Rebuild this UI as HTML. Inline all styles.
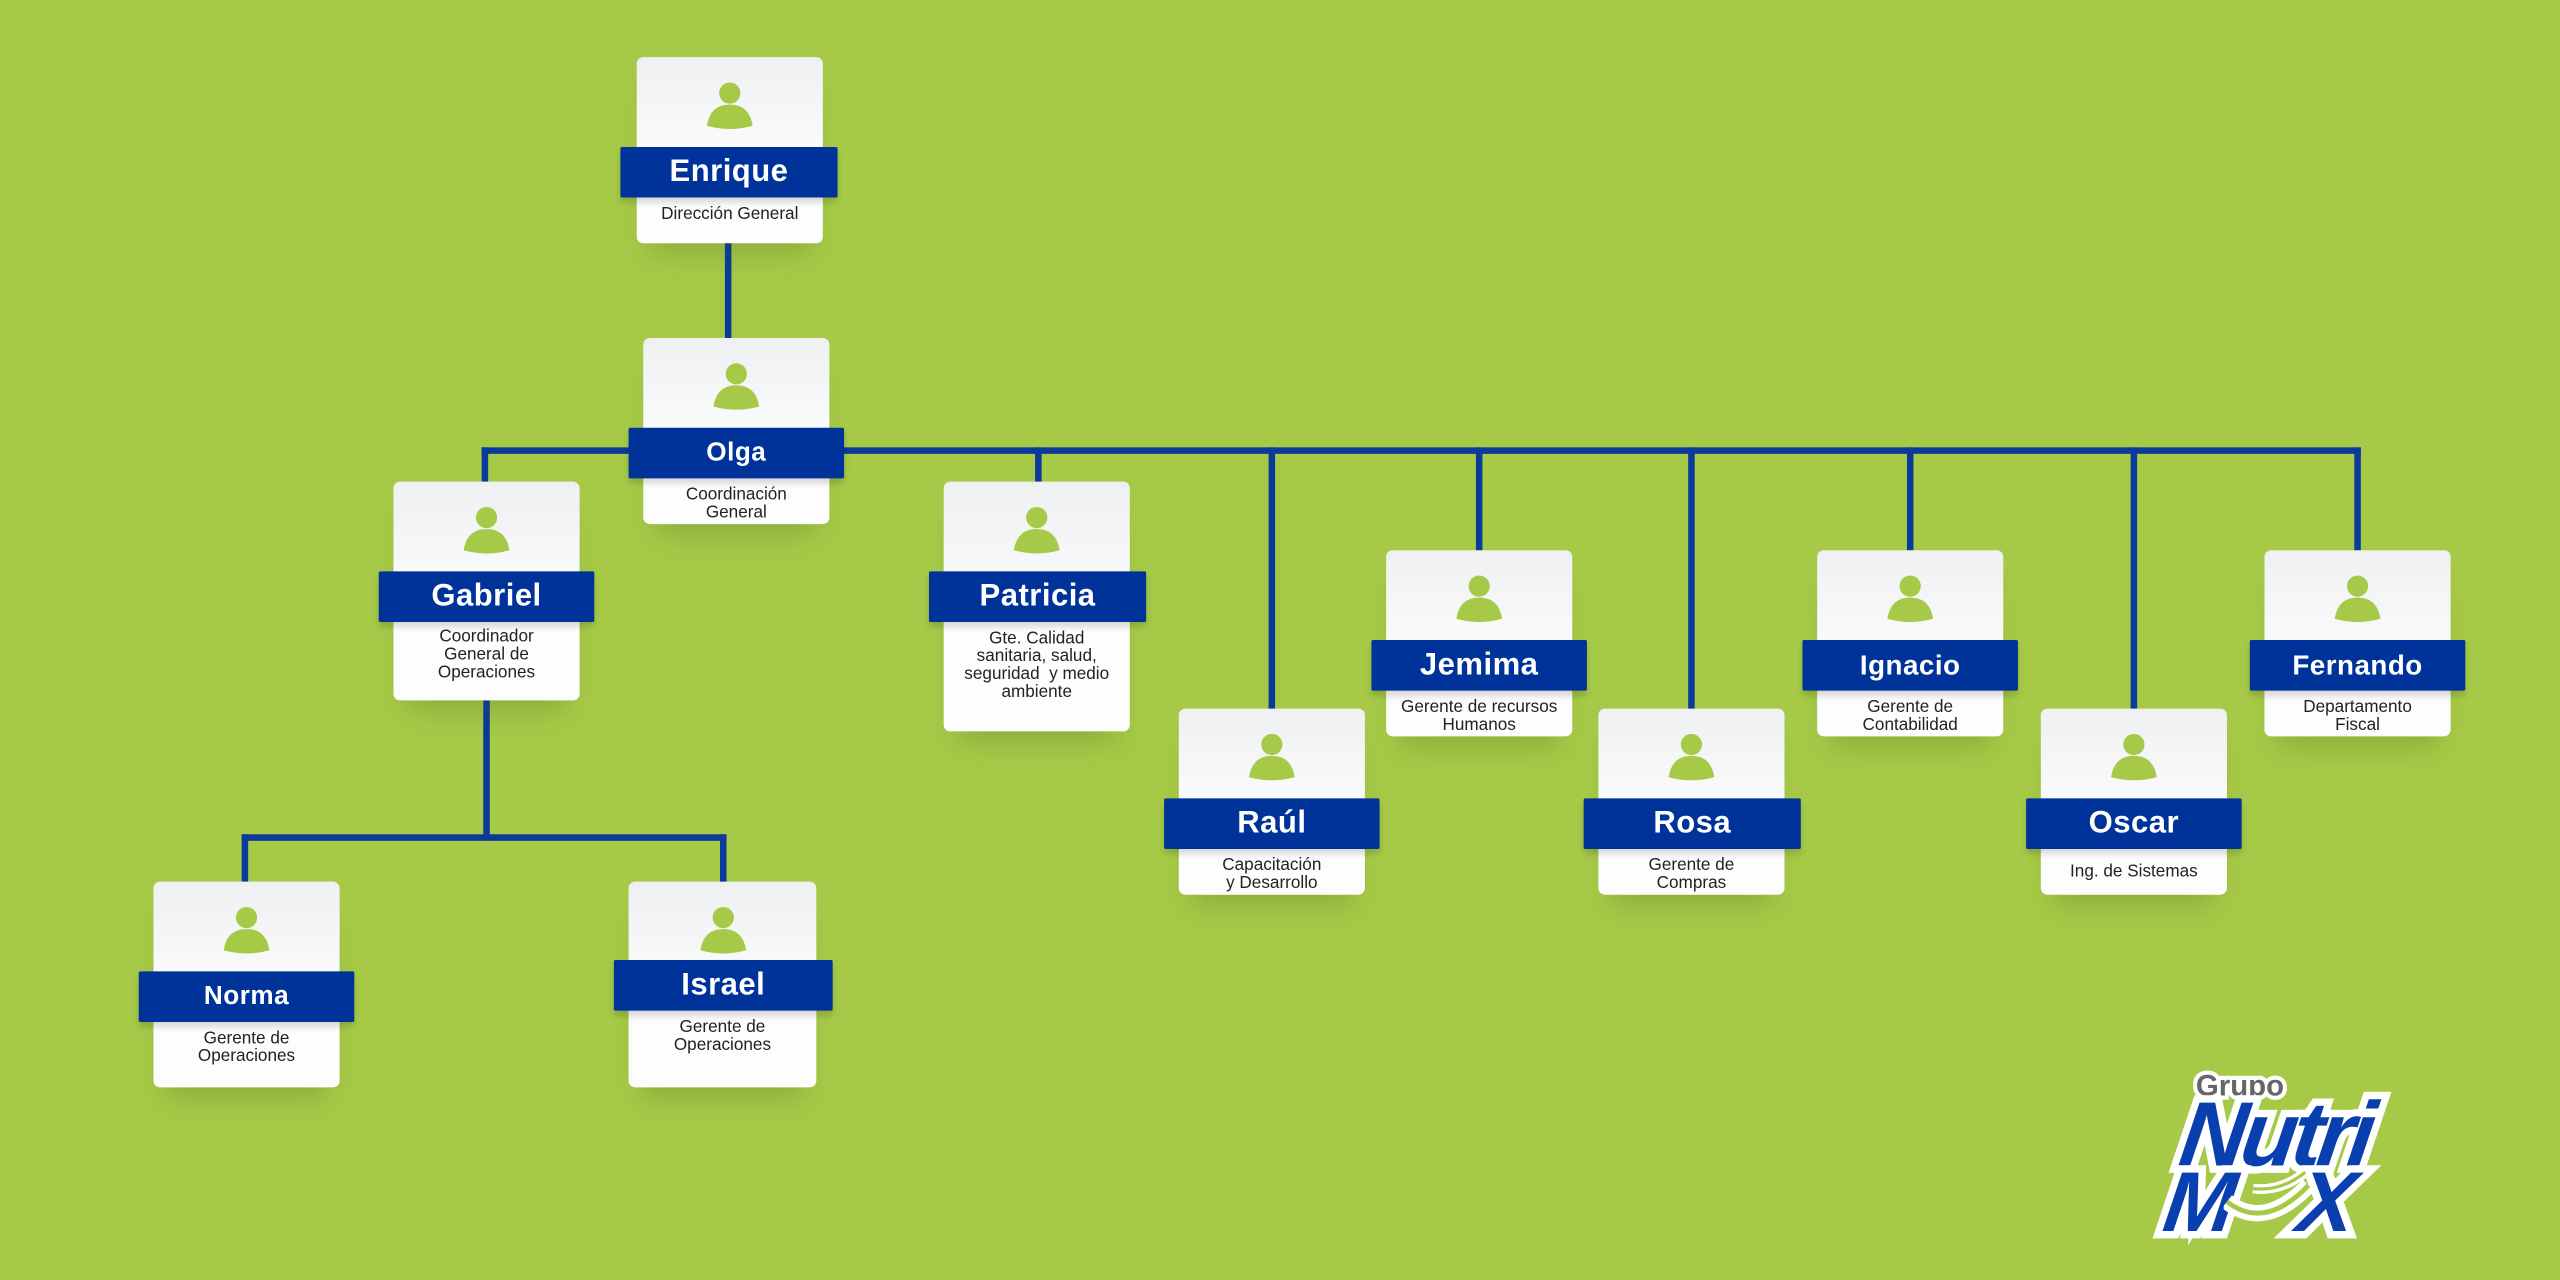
<!DOCTYPE html>
<html><head><meta charset="utf-8"><style>
html,body{margin:0;padding:0;}
body{width:2560px;height:1280px;overflow:hidden;background:#a6ca47;}
#w{position:absolute;left:0;top:0;width:1568px;height:784px;transform:scale(1.632653);transform-origin:0 0;font-family:"Liberation Sans","DejaVu Sans",sans-serif;}
.c{position:absolute;background:linear-gradient(#eef0f2,#fdfdfd 60%);border-radius:4px;box-shadow:0 14px 16px -8px rgba(60,80,20,0.25);}
.ic{position:absolute;left:50%;top:14px;width:32px;height:30px;margin-left:-16px;}
.b{position:absolute;background:#003399;color:#fff;font-weight:900;font-size:19px;text-align:center;border-radius:1px;box-shadow:0 3px 4px rgba(0,0,0,0.15);letter-spacing:0.3px;}
.s{position:absolute;color:#222;font-size:10.5px;line-height:11px;text-align:center;}
.l{position:absolute;background:#0b3a9c;}
</style></head><body><div id="w">
<!-- lines -->
<div class="l" style="left:444px;top:148px;width:4px;height:60px"></div>
<div class="l" style="left:295px;top:274px;width:1151px;height:4px"></div>
<div class="l" style="left:295px;top:274px;width:4px;height:22px"></div>
<div class="l" style="left:634px;top:274px;width:4px;height:22px"></div>
<div class="l" style="left:777px;top:274px;width:4px;height:161px"></div>
<div class="l" style="left:904px;top:274px;width:4px;height:64px"></div>
<div class="l" style="left:1034px;top:274px;width:4px;height:161px"></div>
<div class="l" style="left:1168px;top:274px;width:4px;height:64px"></div>
<div class="l" style="left:1305px;top:274px;width:4px;height:161px"></div>
<div class="l" style="left:1442px;top:274px;width:4px;height:64px"></div>
<div class="l" style="left:296px;top:429px;width:4px;height:85px"></div>
<div class="l" style="left:148px;top:511px;width:297px;height:4px"></div>
<div class="l" style="left:148px;top:511px;width:4px;height:30px"></div>
<div class="l" style="left:441px;top:511px;width:4px;height:30px"></div>

<svg width="0" height="0" style="position:absolute"><defs><g id="p"><circle cx="16" cy="8" r="6.5" fill="#a6ca47"/><path d="M2 28 Q4 15 16 15 Q28 15 30 28 Q16 32 2 28Z" fill="#a6ca47"/></g></defs></svg>

<div class="c" style="left:390px;top:35px;width:114px;height:114px"><svg class="ic"><use href="#p"/></svg></div>
<div class="b" style="left:380px;top:90px;width:133px;height:31px;line-height:31px">Enrique</div>
<div class="s" style="left:390px;top:126px;width:114px">Dirección General</div>

<div class="c" style="left:394px;top:207px;width:114px;height:114px"><svg class="ic"><use href="#p"/></svg></div>
<div class="b" style="left:385px;top:262px;width:132px;height:31px;line-height:31px;font-size:16px">Olga</div>
<div class="s" style="left:394px;top:298px;width:114px">Coordinación<br>General</div>

<div class="c" style="left:241px;top:295px;width:114px;height:134px"><svg class="ic"><use href="#p"/></svg></div>
<div class="b" style="left:232px;top:350px;width:132px;height:31px;line-height:31px">Gabriel</div>
<div class="s" style="left:241px;top:385px;width:114px">Coordinador<br>General de<br>Operaciones</div>

<div class="c" style="left:578px;top:295px;width:114px;height:153px"><svg class="ic"><use href="#p"/></svg></div>
<div class="b" style="left:569px;top:350px;width:133px;height:31px;line-height:31px">Patricia</div>
<div class="s" style="left:578px;top:386px;width:114px">Gte. Calidad<br>sanitaria, salud,<br>seguridad&nbsp; y medio<br>ambiente</div>

<div class="c" style="left:722px;top:434px;width:114px;height:114px"><svg class="ic"><use href="#p"/></svg></div>
<div class="b" style="left:713px;top:489px;width:132px;height:31px;line-height:31px">Raúl</div>
<div class="s" style="left:722px;top:525px;width:114px">Capacitación<br>y Desarrollo</div>

<div class="c" style="left:849px;top:337px;width:114px;height:114px"><svg class="ic"><use href="#p"/></svg></div>
<div class="b" style="left:840px;top:392px;width:132px;height:31px;line-height:31px">Jemima</div>
<div class="s" style="left:846px;top:428px;width:120px">Gerente de recursos<br>Humanos</div>

<div class="c" style="left:979px;top:434px;width:114px;height:114px"><svg class="ic"><use href="#p"/></svg></div>
<div class="b" style="left:970px;top:489px;width:133px;height:31px;line-height:31px">Rosa</div>
<div class="s" style="left:979px;top:525px;width:114px">Gerente de<br>Compras</div>

<div class="c" style="left:1113px;top:337px;width:114px;height:114px"><svg class="ic"><use href="#p"/></svg></div>
<div class="b" style="left:1104px;top:392px;width:132px;height:31px;line-height:31px;font-size:17px">Ignacio</div>
<div class="s" style="left:1113px;top:428px;width:114px">Gerente de<br>Contabilidad</div>

<div class="c" style="left:1250px;top:434px;width:114px;height:114px"><svg class="ic"><use href="#p"/></svg></div>
<div class="b" style="left:1241px;top:489px;width:132px;height:31px;line-height:31px">Oscar</div>
<div class="s" style="left:1250px;top:529px;width:114px">Ing. de Sistemas</div>

<div class="c" style="left:1387px;top:337px;width:114px;height:114px"><svg class="ic"><use href="#p"/></svg></div>
<div class="b" style="left:1378px;top:392px;width:132px;height:31px;line-height:31px;font-size:17px">Fernando</div>
<div class="s" style="left:1387px;top:428px;width:114px">Departamento<br>Fiscal</div>

<div class="c" style="left:94px;top:540px;width:114px;height:126px"><svg class="ic"><use href="#p"/></svg></div>
<div class="b" style="left:85px;top:595px;width:132px;height:31px;line-height:31px;font-size:16px">Norma</div>
<div class="s" style="left:94px;top:631px;width:114px">Gerente de<br>Operaciones</div>

<div class="c" style="left:385px;top:540px;width:115px;height:126px"><svg class="ic"><use href="#p"/></svg></div>
<div class="b" style="left:376px;top:588px;width:134px;height:31px;line-height:31px">Israel</div>
<div class="s" style="left:385px;top:624px;width:115px">Gerente de<br>Operaciones</div>

<!-- Logo -->
<div style="position:absolute;left:1345px;top:655px;font-size:18px;font-weight:bold;color:#666;-webkit-text-stroke:5px #fff;paint-order:stroke fill;">Grupo</div>
<div style="position:absolute;left:1336px;top:666px;font-size:56px;font-weight:900;font-style:italic;color:#0a3fb0;letter-spacing:-3px;-webkit-text-stroke:9px #fff;paint-order:stroke fill;transform:skewX(-8deg);line-height:58px">Nutri</div>
<div style="position:absolute;left:1326px;top:712px;font-size:52px;font-weight:900;font-style:italic;color:#0a3fb0;-webkit-text-stroke:9px #fff;paint-order:stroke fill;transform:skewX(-8deg);line-height:50px">M</div>
<div style="position:absolute;left:1408px;top:712px;font-size:52px;font-weight:900;font-style:italic;color:#0a3fb0;-webkit-text-stroke:9px #fff;paint-order:stroke fill;transform:skewX(-8deg);line-height:50px">X</div>
<svg style="position:absolute;left:1362px;top:716px" width="60" height="40"><path d="M2 20 Q25 38 52 10" stroke="#fff" stroke-width="10" fill="none"/><path d="M2 20 Q25 38 52 10" stroke="#a6ca47" stroke-width="3" fill="none"/><path d="M18 12 Q35 14 50 2" stroke="#fff" stroke-width="6" fill="none"/><path d="M18 12 Q35 14 50 2" stroke="#a6ca47" stroke-width="2" fill="none"/></svg>
</div></body></html>
